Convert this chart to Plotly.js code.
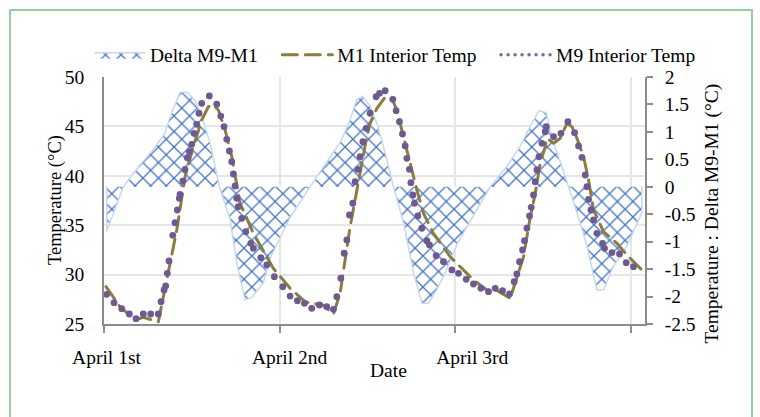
<!DOCTYPE html>
<html>
<head>
<meta charset="utf-8">
<script src="https://cdn.plot.ly/plotly-3.0.1.min.js"></script>
<style>
html,body{margin:0;padding:0;background:#fff;}
#chart{width:760px;height:417px;}
.js-line{stroke-linecap:round;stroke-linejoin:round;}
</style>
</head>
<body>
<div id="chart"></div>
<script>
// Hours since April 1st 00:00
const m1Hours = [0.27,2.19,4.24,5.37,7.42,8.57,9.94,11.07,12.2,13.35,14.25,14.94,15.62,16.54,17.45,18.59,20.4,22.23,23.1,
  25.42,27.47,28.84,29.52,31.34,32.25,33.62,35.9,36.35,37.27,38.4,39.32,40.0,40.91,42.05,42.74,43.64,45.0,47.29,
  49.1,50.47,52.3,53.44,55.49,56.4,57.31,58.23,58.91,59.59,60.27,60.5,61.41,62.32,63.24,63.92,64.6,65.51,66.19,66.87,68.24,70.07,71.44,73.47];
const m1Temp = [28.78,26.75,25.40,25.68,25.23,29.45,34.51,39.91,42.95,45.65,46.99,47.17,46.66,44.64,41.93,37.22,34.18,31.81,30.67,
  28.61,27.26,27.02,27.13,26.01,28.11,34.85,43.96,45.31,46.83,47.95,47.84,46.66,43.96,40.59,38.56,36.2,34.18,31.81,
  30.47,29.45,28.44,28.51,27.6,29.79,31.81,35.86,38.23,41.27,42.95,43.8,43.29,43.8,45.31,44.97,43.8,41.93,39.57,36.54,34.34,33.17,31.98,30.47];

const m9Hours = [0.37,1.37,2.42,3.46,4.37,5.37,6.38,7.42,7.79,8.2,8.43,8.65,8.88,9.39,9.70,10.02,10.29,10.39,10.76,11.07,11.38,11.66,
  11.99,12.3,12.67,12.98,13.35,14.39,15.4,15.95,16.4,16.77,17.13,17.45,17.67,17.9,18.14,18.35,18.82,19.37,20.05,20.4,21.42,22.24,23.27,
  24.42,25.42,26.42,27.38,28.38,29.42,30.43,31.34,
  31.8,32.35,32.8,33.17,33.53,33.99,34.3,34.67,34.99,35.36,35.81,36.35,37.17,37.63,38.4,39.45,39.9,40.36,40.77,41.14,41.37,
  41.72,41.92,42.19,42.41,42.87,43.42,44.1,44.46,45.37,46.37,47.52,48.42,49.47,50.47,51.48,52.52,53.44,54.44,55.4,56.03,56.4,
  56.76,57.17,57.44,57.77,58.13,58.36,58.67,58.9,59.14,59.41,59.82,60.27,60.41,61.41,62.42,63.37,64.28,64.82,65.29,65.74,
  65.97,66.19,66.52,66.87,67.33,68.1,68.37,69.38,70.42,71.33,72.33];
const m9Temp = [28.0,27.16,26.55,26.01,25.54,26.01,26.01,26.01,27.26,28.44,28.85,30.13,31.38,33.98,35.25,36.54,37.72,38.13,39.47,40.66,41.83,42.44,
  43.19,44.3,45.21,46.33,47.34,48.08,47.24,46.05,44.97,43.69,42.51,41.43,40.18,38.97,37.72,36.87,35.7,34.34,33.17,32.66,31.71,30.97,29.79,
  28.78,27.83,27.36,27.09,26.59,26.92,26.75,26.49,
  27.76,29.63,32.16,33.5,36.03,37.22,39.4,40.66,41.93,43.45,44.81,46.33,48.0,48.35,48.61,47.74,46.59,45.48,44.23,43.02,41.77,
  40.66,39.3,38.06,37.22,35.93,34.69,33.43,33.0,31.91,31.31,30.47,30.13,29.52,29.05,28.61,28.27,28.61,28.37,28.04,29.28,30.06,
  31.31,32.49,33.43,34.69,35.93,36.81,38.06,39.4,40.59,41.93,43.29,44.46,44.97,43.96,44.3,45.48,44.36,43.02,41.87,40.08,
  38.9,37.62,36.54,35.53,34.18,33.17,32.66,32.22,32.09,31.21,30.8];

const deltaHours = [0.37,2.64,4.69,6.74,8.34,9.12,10.39,11.38,12.44,13.35,14.49,15.76,17.22,18.22,19.27,20.19,21.77,22.69,25.42,
  28.15,30.89,32.49,33.62,34.53,35.35,36.35,37.27,38.17,39.54,40.91,42.28,43.42,44.33,45.48,46.84,48.2,
  52.75,55.03,56.85,58.22,59.45,60.41,60.72,61.41,62.55,63.46,64.6,65.97,67.33,68.24,69.61,71.44,73.47];
const deltaVal = [-0.81,0,0.36,0.68,0.98,1.31,1.72,1.72,1.57,1.28,0.8,0,-0.59,-1.44,-2.06,-2.02,-1.75,-1.3,-0.56,
  0,0.53,0.86,1.22,1.59,1.65,1.47,1.16,0.74,0,-0.65,-1.56,-2.12,-2.12,-1.87,-1.5,-1.05,
  0,0.37,0.74,1.1,1.39,1.35,1.16,0.8,0.37,0,-0.47,-1.08,-1.88,-1.88,-1.44,-1.08,-0.47];

const dayLabels = ['April 1st','April 2nd','April 3rd'];
const dayLabelHours = [0.34,25.35,50.3];
const rightTickVals = [2,1.5,1,0.5,0,-0.5,-1,-1.5,-2,-2.5];
const rightTickText = ['2','1.5','1','0.5','0','-0.5','-1','-1.5','-2','-2.5'];
const leftTickVals = [25,30,35,40,45,50];

const FONT = 'Liberation Serif, Times New Roman, serif';
const FS = 19.5;
const AX = '#8c8c8c';
const GRID = '#e6e6e6';
const NB = '\u00a0';

// closed polygon for the delta area (baseline included, like the original border)
const polyX = [deltaHours[0]].concat(deltaHours, [deltaHours[deltaHours.length-1]]);
const polyY = [0].concat(deltaVal, [0]);

const traces = [
  {x: polyX, y: polyY, yaxis: 'y', type: 'scatter', mode: 'lines', name: 'Delta M9-M1' + NB + NB + NB,
   fill: 'toself', fillcolor: 'white',
   fillpattern: {shape: 'x', fgcolor: '#4472c4', bgcolor: 'white', size: 11, solidity: 0.22},
   line: {color: '#c5d9ef', width: 1.5}},
  {x: m1Hours, y: m1Temp, yaxis: 'y2', type: 'scatter', mode: 'lines', name: 'M1 Interior Temp' + NB + NB + NB,
   line: {color: '#8b7d3c', width: 3, dash: '15px,8px'}},
  {x: m9Hours, y: m9Temp, yaxis: 'y2', type: 'scatter', mode: 'markers', name: 'M9 Interior Temp',
   showlegend: false, legendgroup: 'm9',
   marker: {color: '#6e5a92', size: 6.8, line: {width: 0}}},
  {x: [null], y: [null], yaxis: 'y2', type: 'scatter', mode: 'lines', name: 'M9 Interior Temp', legendgroup: 'm9',
   line: {color: '#7a68a0', width: 3.5, dash: '0px,7px'}}
];

const layout = {
  width: 760, height: 417,
  margin: {l: 104, r: 115, t: 77, b: 93},
  paper_bgcolor: 'white', plot_bgcolor: 'white',
  font: {family: FONT, size: FS, color: '#000'},
  showlegend: true,
  legend: {orientation: 'h', x: -0.026, xanchor: 'left', y: 1.168, yanchor: 'top',
           font: {family: FONT, size: FS, color: '#000'}, itemwidth: 50, traceorder: 'normal',
           bgcolor: 'rgba(0,0,0,0)'},
  xaxis: {range: [0, 73.9], tickmode: 'array', tickvals: dayLabelHours, ticktext: dayLabels,
          ticks: '', showgrid: false, zeroline: false, showline: true, linecolor: AX, linewidth: 1.5,
          ticklabelstandoff: 15,
          minor: {tick0: 0, dtick: 24, ticks: 'outside', ticklen: 7, tickcolor: AX, tickwidth: 1.5,
                  showgrid: true, gridcolor: GRID, gridwidth: 1.5}},
  yaxis: {side: 'right', range: [-2.5, 2], tickmode: 'array', tickvals: rightTickVals, ticktext: rightTickText,
          ticks: 'outside', ticklen: 6, tickcolor: AX, tickwidth: 1.5, showline: true, linecolor: AX, linewidth: 1.5,
          showgrid: false, zeroline: false, ticklabelstandoff: 8, anchor: 'x'},
  yaxis2: {overlaying: 'y', side: 'left', range: [25, 50], tickmode: 'array', tickvals: leftTickVals,
           ticks: '', showline: true, linecolor: AX, linewidth: 1.5, showgrid: true, gridcolor: GRID, gridwidth: 1.5,
           zeroline: false, ticklabelstandoff: 14, anchor: 'x'},
  annotations: [
    {text: 'Date', xref: 'paper', yref: 'paper', x: 0.525, y: -0.19, xanchor: 'center', yanchor: 'middle',
     showarrow: false, font: {family: FONT, size: FS, color: '#000'}},
    {text: 'Temperature (°C)', xref: 'paper', yref: 'paper', x: -0.0906, y: 0.502, xanchor: 'center', yanchor: 'middle',
     textangle: -90, showarrow: false, font: {family: FONT, size: 18.5, color: '#000'}},
    {text: 'Temperature : Delta M9-M1 (°C)', xref: 'paper', yref: 'paper', x: 1.1238, y: 0.447, xanchor: 'center', yanchor: 'middle',
     textangle: -90, showarrow: false, font: {family: FONT, size: FS, color: '#000'}}
  ],
  shapes: [
    {type: 'rect', xref: 'paper', yref: 'paper', x0: -0.1738, x1: 1.1978, y0: -0.6, y1: 1.2713,
     line: {color: '#93d19b', width: 2}, fillcolor: 'rgba(0,0,0,0)', layer: 'below'}
  ]
};

Plotly.newPlot('chart', traces, layout, {displayModeBar: false, responsive: false});
</script>
</body>
</html>
